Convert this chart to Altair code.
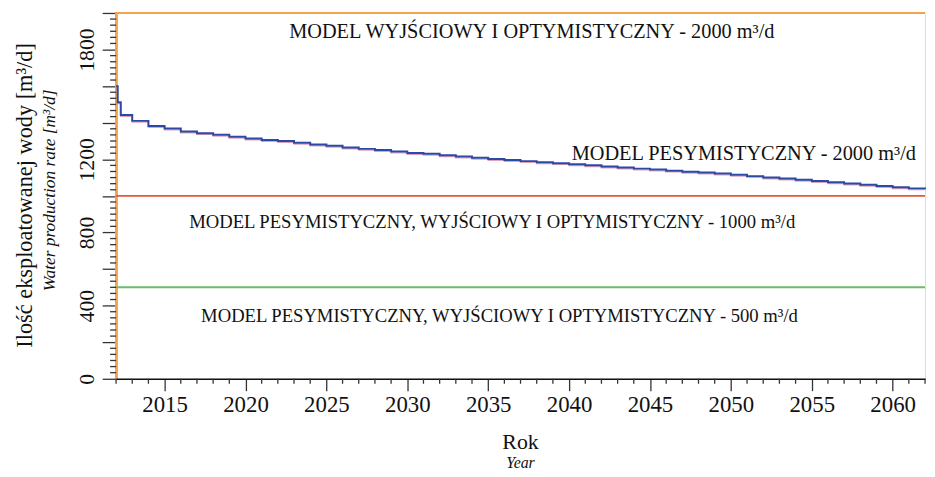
import altair as alt
import pandas as pd

# ---- data ----
step_years = [2012.0, 2012.1, 2012.29, 2013, 2014, 2015, 2016, 2017, 2018, 2019,
              2020, 2021, 2022, 2023, 2024, 2025, 2026, 2027, 2028, 2029,
              2030, 2031, 2032, 2033, 2034, 2035, 2036, 2037, 2038, 2039,
              2040, 2041, 2042, 2043, 2044, 2045, 2046, 2047, 2048, 2049,
              2050, 2051, 2052, 2053, 2054, 2055, 2056, 2057, 2058, 2059,
              2060, 2061, 2062]
step_values = [1600, 1512, 1442, 1410, 1382, 1368, 1352, 1343, 1334, 1323,
               1314, 1305, 1300, 1290, 1281, 1274, 1265, 1257, 1251, 1242,
               1235, 1230, 1222, 1215, 1208, 1202, 1196, 1190, 1184, 1179,
               1173, 1167, 1161, 1155, 1149, 1144, 1138, 1132, 1128, 1122,
               1115, 1108, 1101, 1095, 1088, 1081, 1074, 1068, 1061, 1054,
               1047, 1041, 1038]

orange_years = [2012, 2012, 2062]
orange_values = [0, 2000, 2000]
red_years = [2012, 2062]
red_values = [1000, 1000]
green_years = [2012, 2062]
green_values = [500, 500]

ann_top_texts = ["MODEL WYJŚCIOWY I OPTYMISTYCZNY  - 2000 m³/d",
                 "MODEL PESYMISTYCZNY - 2000 m³/d"]
ann_top_years = [2037.7, 2050.8]
ann_top_values = [1897, 1231]
ann_low_texts = ["MODEL PESYMISTYCZNY, WYJŚCIOWY I OPTYMISTYCZNY - 1000 m³/d",
                 "MODEL PESYMISTYCZNY, WYJŚCIOWY I OPTYMISTYCZNY - 500 m³/d"]
ann_low_years = [2035.25, 2035.7]
ann_low_values = [858, 344]

x_major = [2015, 2020, 2025, 2030, 2035, 2040, 2045, 2050, 2055, 2060]
x_minor = [y for y in range(2012, 2063) if y % 5 != 0]
y_major = [0, 200, 400, 600, 800, 1000, 1200, 1400, 1600, 1800, 2000]
y_labels = [0, 400, 800, 1200, 1800]
y_minor = [i * 200 / 6 for i in range(61) if i % 6 != 0]

FONT = "Liberation Serif"
W, H = 816, 369

xs = alt.Scale(domain=[2012, 2062], nice=False, zero=False)
ys = alt.Scale(domain=[0, 2000], nice=False)

x_axis = alt.Axis(values=x_major, format="d", title=None, grid=False,
                  labelFont=FONT, labelFontSize=23, labelColor="#111",
                  tickSize=12, tickColor="#333", tickWidth=1.3,
                  domainColor="#111", domainWidth=1.5, labelPadding=3,
                  labelFlush=False, labelOverlap=False)
y_axis = alt.Axis(values=y_major, format="d", title=None, grid=False,
                  labelFont=FONT, labelFontSize=22, labelColor="#111",
                  labelAngle=270, labelAlign="center", labelBaseline="alphabetic",
                  labelExpr="indexof([0,400,800,1200,1800], datum.value) >= 0 ? datum.label : ''",
                  tickSize=14, tickColor="#333", tickWidth=1.3,
                  domainColor="#111", domainWidth=1.5, labelPadding=9,
                  labelFlush=False, labelOverlap=False)

X = lambda f: alt.X(f, scale=xs, axis=x_axis)
Y = lambda f: alt.Y(f, scale=ys, axis=y_axis)

step_df = pd.DataFrame({"year": step_years, "value": step_values})
pink = alt.Chart(step_df).mark_line(interpolate="step-after", color="#d98aa8",
                                    strokeWidth=1.4, yOffset=1.3, opacity=0.8).encode(
    x=X("year:Q"), y=Y("value:Q"))
blue = alt.Chart(step_df).mark_line(interpolate="step-after", color="#2b4aa6",
                                    strokeWidth=2).encode(
    x=X("year:Q"), y=Y("value:Q"))

def hline(years, values, color):
    df = pd.DataFrame({"year": years, "value": values, "i": list(range(len(years)))})
    return alt.Chart(df).mark_line(color=color, strokeWidth=2).encode(
        x=X("year:Q"), y=Y("value:Q"), order="i:Q")

red = hline(red_years, red_values, "#e8553a")
green = hline(green_years, green_values, "#6dbb6d")
orange = hline(orange_years, orange_values, "#f4a24c")

ann_top = alt.Chart(pd.DataFrame({"t": ann_top_texts, "year": ann_top_years,
                                  "value": ann_top_values})).mark_text(
    font=FONT, fontSize=20.5, color="#111", align="center", baseline="middle").encode(
    x=X("year:Q"), y=Y("value:Q"), text="t:N")
ann_low = alt.Chart(pd.DataFrame({"t": ann_low_texts, "year": ann_low_years,
                                  "value": ann_low_values})).mark_text(
    font=FONT, fontSize=18.8, color="#111", align="center", baseline="middle").encode(
    x=X("year:Q"), y=Y("value:Q"), text="t:N")

xminor = alt.Chart(pd.DataFrame({"year": x_minor})).mark_rule(color="#333", strokeWidth=1.3).encode(
    x=X("year:Q"), y=alt.value(H), y2=alt.value(H + 5))
yminor = alt.Chart(pd.DataFrame({"value": y_minor})).mark_rule(color="#333", strokeWidth=1.3).encode(
    y=Y("value:Q"), x=alt.value(-6), x2=alt.value(0))

titles = pd.DataFrame({
    "t": ["Ilość eksploatowanej wody [m³/d]", "Water production rate [m³/d]", "Rok", "Year"],
    "px": [-92, -67, W / 2, W / 2],
    "py": [184, 179, 433, 454],
})
def title_text(i, size, style="normal", angle=0):
    return alt.Chart(titles.iloc[[i]]).mark_text(font=FONT, fontSize=size, fontStyle=style,
        angle=angle, align="center", baseline="middle", color="#111").encode(
        x=alt.X("px:Q", scale=None), y=alt.Y("py:Q", scale=None), text="t:N")

t_main_y = title_text(0, 22.5, angle=270)
t_sub_y = title_text(1, 17.5, "italic", angle=270)
t_main_x = title_text(2, 22)
t_sub_x = title_text(3, 16, "italic")

chart = alt.layer(orange, red, green, pink, blue, ann_top, ann_low, xminor, yminor,
                  t_main_y, t_sub_y, t_main_x, t_sub_x).properties(
    width=W, height=H,
    autosize=alt.AutoSizeParams(type="none"),
    padding={"left": 109, "top": 3, "right": 2, "bottom": 90},
).configure_view(stroke="#111", strokeWidth=1.5).configure(background="white")

chart.save("out.html", embed_options={"renderer": "svg", "actions": False})
